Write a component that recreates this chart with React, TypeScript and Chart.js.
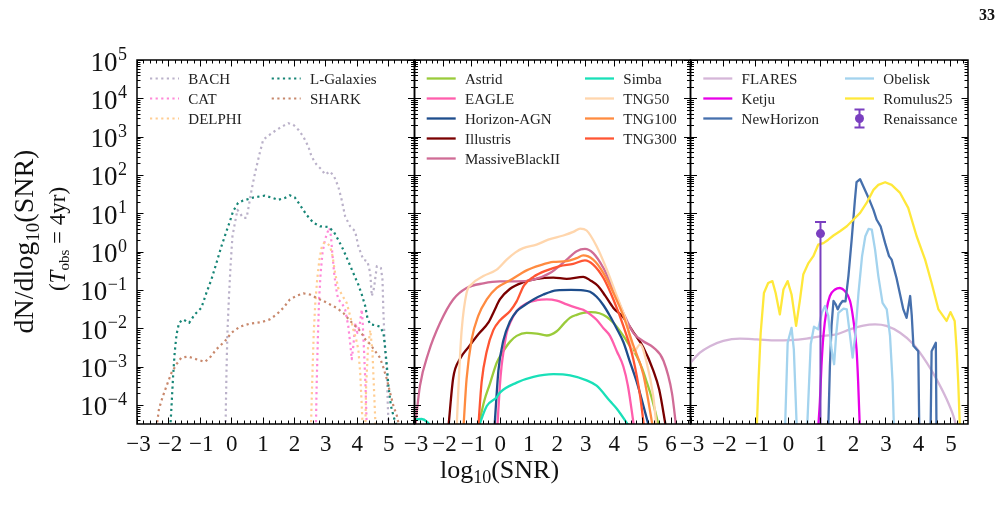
import React, { useEffect, useRef } from "react";
import { Chart, registerables } from "chart.js";

Chart.register(...registerables);

const SERIF = "'Liberation Serif', 'Times New Roman', serif";
const W = 1004;
const H = 507;
const PLOT_TOP = 60;
const PLOT_BOTTOM = 424;
const Y_MIN = 10 ** -4.5;
const Y_MAX = 1e5;

// Each series: [log10(SNR), log10(dN/dlog10 SNR)]; values far below the axis mark where a curve drops out.
type Pt = [number, number];

// ---- semi-analytic models ----
const bach: Pt[] = [[-0.18,-4.6],[-0.15,-3.16],[-0.12,-2.12],[-0.07,-1.16],[-0.02,-0.38],[0.04,0.4],[0.12,0.75],[0.2,1.09],[0.38,0.88],[0.49,0.88],[0.54,1.09],[0.65,1.61],[0.76,2.05],[0.91,2.57],[1.02,2.92],[1.23,3.05],[1.45,3.18],[1.66,3.28],[1.82,3.35],[1.98,3.31],[2.14,3.18],[2.3,3.0],[2.46,2.74],[2.56,2.48],[2.72,2.27],[2.88,2.14],[2.99,2.01],[3.15,2.09],[3.28,1.96],[3.41,1.7],[3.52,1.35],[3.63,0.92],[3.79,0.66],[3.95,0.53],[4.05,0.14],[4.21,-0.21],[4.34,-0.25],[4.43,-0.56],[4.48,-1.16],[4.55,-0.95],[4.64,-0.38],[4.77,-0.43],[4.82,-0.73],[4.85,-1.6],[4.9,-2.55],[4.96,-3.16],[4.99,-4.03],[5.02,-4.6]];
const cat: Pt[] = [[2.7,-4.6],[2.72,-3.59],[2.76,-2.29],[2.8,-1.25],[2.85,-0.56],[2.91,-0.03],[2.99,0.31],[3.06,0.49],[3.13,0.62],[3.18,0.4],[3.22,-0.03],[3.28,-0.56],[3.34,-0.95],[3.41,-1.25],[3.52,-1.34],[3.63,-1.51],[3.73,-1.94],[3.79,-2.38],[3.84,-2.81],[3.89,-2.47],[3.96,-1.86],[4.02,-2.12],[4.09,-1.94],[4.16,-1.51],[4.19,-1.86],[4.23,-2.55],[4.28,-3.51],[4.32,-4.6]];
const delphi: Pt[] = [[2.54,-4.6],[2.59,-3.16],[2.63,-2.12],[2.68,-1.34],[2.74,-0.73],[2.81,-0.21],[2.88,0.1],[2.96,0.23],[3.04,0.23],[3.15,0.14],[3.23,-0.12],[3.31,-0.56],[3.41,-0.95],[3.55,-1.16],[3.68,-1.34],[3.79,-1.68],[3.89,-2.03],[3.98,-2.29],[4.05,-2.55],[4.11,-3.16],[4.16,-4.03],[4.19,-4.6],[4.24,-6],[4.3,-3.5],[4.36,-2.5],[4.43,-2.05],[4.5,-2.6],[4.56,-3.8],[4.6,-4.6]];
const lGalaxies: Pt[] = [[-1.94,-4.6],[-1.9,-4.03],[-1.85,-3.25],[-1.8,-2.64],[-1.74,-2.16],[-1.66,-1.86],[-1.53,-1.77],[-1.34,-1.86],[-1.16,-1.64],[-0.95,-1.47],[-0.79,-1.08],[-0.63,-0.73],[-0.47,-0.3],[-0.31,0.14],[-0.15,0.53],[-0.04,0.79],[0.06,1.05],[0.22,1.27],[0.38,1.33],[0.7,1.41],[1.07,1.46],[1.29,1.41],[1.5,1.35],[1.71,1.4],[1.87,1.47],[2.03,1.41],[2.19,1.22],[2.4,0.96],[2.62,0.75],[2.83,0.66],[3.1,0.64],[3.26,0.53],[3.41,0.31],[3.57,0.05],[3.73,-0.25],[3.89,-0.56],[4.05,-0.86],[4.16,-1.12],[4.27,-1.42],[4.34,-1.73],[4.43,-1.9],[4.59,-1.92],[4.74,-1.96],[4.85,-2.12],[4.9,-2.47],[4.96,-2.99],[5.01,-3.51],[5.09,-4.03],[5.17,-4.29],[5.28,-4.6]];
const shark: Pt[] = [[-2.38,-4.6],[-2.3,-4.11],[-2.19,-3.81],[-2.06,-3.51],[-1.9,-3.16],[-1.74,-2.94],[-1.59,-2.77],[-1.37,-2.74],[-1.11,-2.81],[-0.84,-2.88],[-0.68,-2.77],[-0.47,-2.55],[-0.2,-2.34],[0.01,-2.12],[0.28,-1.96],[0.6,-1.88],[0.97,-1.84],[1.23,-1.77],[1.45,-1.64],[1.66,-1.47],[1.87,-1.25],[2.09,-1.15],[2.3,-1.09],[2.51,-1.12],[2.72,-1.21],[2.94,-1.29],[3.15,-1.38],[3.36,-1.47],[3.57,-1.6],[3.79,-1.81],[3.95,-1.94],[4.11,-2.07],[4.27,-2.29],[4.43,-2.42],[4.59,-2.6],[4.74,-2.77],[4.85,-3.03],[4.96,-3.33],[5.06,-3.68],[5.17,-4.03],[5.28,-4.29],[5.36,-4.6]];

// ---- large-volume hydrodynamical simulations ----
const astrid: Pt[] = [[-0.76,-4.6],[-0.55,-3.9],[-0.35,-3.45],[-0.11,-2.9],[0.12,-2.6],[0.36,-2.35],[0.59,-2.2],[0.94,-2.12],[1.3,-2.14],[1.65,-2.19],[2.0,-2.08],[2.25,-1.88],[2.46,-1.73],[2.7,-1.65],[2.93,-1.6],[3.2,-1.58],[3.5,-1.61],[3.75,-1.7],[3.99,-1.86],[4.34,-2.2],[4.6,-2.5],[4.81,-2.73],[5.0,-3.05],[5.16,-3.4],[5.35,-3.85],[5.6,-4.6]];
const eagle: Pt[] = [[-0.09,-4.6],[0.0,-3.5],[0.06,-2.99],[0.15,-2.5],[0.24,-2.12],[0.4,-1.8],[0.59,-1.55],[0.94,-1.35],[1.3,-1.27],[1.65,-1.25],[2.0,-1.28],[2.35,-1.38],[2.7,-1.47],[2.93,-1.52],[3.2,-1.65],[3.4,-1.78],[3.64,-2.0],[3.87,-2.2],[4.11,-2.6],[4.34,-3.0],[4.5,-3.5],[4.72,-4.6]];
const horizonAgn: Pt[] = [[-0.19,-4.6],[-0.05,-3.1],[0.12,-2.33],[0.36,-1.82],[0.6,-1.55],[0.83,-1.42],[1.18,-1.25],[1.53,-1.12],[2.0,-1.01],[2.5,-1.0],[2.93,-1.01],[3.17,-1.05],[3.4,-1.18],[3.64,-1.4],[3.87,-1.68],[4.1,-2.0],[4.34,-2.36],[4.56,-2.85],[4.81,-3.4],[5.0,-3.9],[5.25,-4.6]];
const illustris: Pt[] = [[-1.81,-4.6],[-1.64,-3.3],[-1.4,-2.8],[-1.11,-2.5],[-0.75,-2.15],[-0.4,-1.85],[-0.2,-1.55],[0.0,-1.25],[0.36,-0.97],[0.82,-0.8],[1.3,-0.71],[1.88,-0.68],[2.35,-0.71],[2.93,-0.66],[3.2,-0.76],[3.45,-0.9],[3.7,-1.15],[3.99,-1.47],[4.34,-1.72],[4.69,-2.1],[5.04,-2.5],[5.39,-3.1],[5.6,-3.6],[5.84,-4.6]];
const massiveBlackII: Pt[] = [[-2.98,-4.6],[-2.81,-3.51],[-2.51,-2.64],[-2.1,-1.86],[-1.64,-1.25],[-1.17,-0.95],[-0.58,-0.83],[0.0,-0.78],[0.59,-0.78],[1.18,-0.73],[1.76,-0.56],[2.35,-0.21],[2.7,0.01],[2.99,0.07],[3.28,-0.04],[3.64,-0.43],[3.99,-0.99],[4.34,-1.6],[4.69,-2.12],[5.04,-2.34],[5.39,-2.5],[5.75,-2.85],[6.05,-3.7],[6.2,-4.6]];
const simba: Pt[] = [[-3.1,-4.45],[-2.95,-4.38],[-2.75,-4.37],[-2.55,-4.45],[-2.4,-4.6],[-1.6,-6],[-0.76,-4.6],[-0.46,-4.03],[-0.11,-3.8],[0.0,-3.68],[0.59,-3.42],[1.18,-3.27],[1.88,-3.2],[2.47,-3.23],[3.05,-3.36],[3.4,-3.5],[3.87,-3.9],[4.11,-4.1],[4.58,-4.6]];
const tng50: Pt[] = [[-1.52,-4.6],[-1.42,-3.0],[-1.34,-2.03],[-1.17,-1.08],[-0.99,-0.85],[-0.58,-0.64],[-0.11,-0.47],[0.24,-0.21],[0.55,-0.02],[0.82,0.09],[1.29,0.18],[1.7,0.31],[2.23,0.42],[2.6,0.52],[2.82,0.6],[3.05,0.55],[3.4,0.14],[3.76,-0.47],[4.11,-1.16],[4.46,-1.86],[4.69,-2.64],[4.93,-2.42],[5.16,-2.9],[5.39,-3.77],[5.51,-4.6]];
const tng100: Pt[] = [[-1.28,-4.6],[-1.17,-3.33],[-0.99,-2.29],[-0.76,-1.68],[-0.46,-1.25],[-0.11,-0.95],[0.36,-0.75],[0.94,-0.49],[1.41,-0.36],[1.88,-0.27],[2.35,-0.25],[2.7,-0.17],[2.93,-0.1],[3.28,-0.21],[3.64,-0.56],[3.99,-1.08],[4.34,-1.68],[4.69,-2.45],[5.04,-3.2],[5.38,-4.6]];
const tng300: Pt[] = [[-0.76,-4.6],[-0.64,-3.4],[-0.46,-2.6],[-0.23,-2.05],[0.0,-1.8],[0.36,-1.55],[0.59,-1.3],[0.85,-0.88],[1.18,-0.66],[1.65,-0.49],[2.11,-0.38],[2.58,-0.32],[2.99,-0.23],[3.28,-0.34],[3.64,-0.69],[3.99,-1.25],[4.34,-1.94],[4.69,-2.81],[4.93,-3.77],[5.07,-4.6]];

// ---- zoom-in and high-redshift simulations ----
const flares: Pt[] = [[-3.05,-2.95],[-2.71,-2.64],[-2.4,-2.47],[-1.99,-2.33],[-1.48,-2.27],[-0.96,-2.29],[-0.35,-2.32],[0.06,-2.31],[0.57,-2.27],[1.09,-2.2],[1.5,-2.16],[1.91,-2.03],[2.32,-1.93],[2.68,-1.9],[3.03,-1.94],[3.45,-2.12],[3.86,-2.42],[4.27,-2.9],[4.57,-3.33],[4.88,-3.85],[5.09,-4.29],[5.19,-4.6]];
const ketju: Pt[] = [[0.93,-4.6],[0.98,-3.94],[1.03,-2.99],[1.09,-2.2],[1.19,-1.51],[1.29,-1.16],[1.45,-0.99],[1.6,-0.95],[1.75,-1.03],[1.91,-1.29],[2.01,-1.77],[2.11,-2.55],[2.16,-3.42],[2.21,-4.6]];
const newHorizon: Pt[] = [[1.24,-4.6],[1.29,-2.99],[1.34,-1.94],[1.4,-1.29],[1.47,-1.38],[1.53,-1.51],[1.6,-1.38],[1.68,-1.29],[1.77,-1.3],[1.86,-0.64],[1.96,0.31],[2.06,1.35],[2.11,1.81],[2.22,1.89],[2.32,1.7],[2.48,1.4],[2.63,1.09],[2.73,0.83],[2.85,0.66],[2.99,0.22],[3.11,-0.12],[3.19,-0.21],[3.34,-0.69],[3.55,-1.51],[3.65,-1.73],[3.76,-1.16],[3.81,-1.68],[3.86,-2.46],[4.01,-2.6],[4.04,-4.6],[4.2,-6],[4.39,-4.6],[4.42,-2.6],[4.55,-2.38],[4.57,-4.6]];
const obelisk: Pt[] = [[-0.09,-4.6],[-0.01,-2.38],[0.11,-1.99],[0.18,-2.55],[0.27,-4.6],[0.43,-6],[0.59,-4.6],[0.7,-2.42],[0.8,-1.96],[0.93,-2.03],[1.04,-1.6],[1.14,-1.42],[1.24,-1.68],[1.34,-2.55],[1.42,-2.94],[1.48,-2.2],[1.55,-1.6],[1.71,-1.49],[1.81,-1.51],[1.91,-2.2],[1.99,-2.77],[2.07,-2.2],[2.17,-1.08],[2.28,-0.12],[2.38,0.4],[2.48,0.59],[2.58,0.57],[2.68,0.05],[2.78,-0.64],[2.91,-1.34],[3.04,-1.51],[3.14,-2.2],[3.22,-3.42],[3.26,-4.6]];
const romulus25: Pt[] = [[-0.96,-4.6],[-0.91,-3.42],[-0.84,-2.12],[-0.74,-1.08],[-0.61,-0.82],[-0.48,-0.77],[-0.38,-1.08],[-0.25,-1.64],[-0.14,-0.99],[-0.01,-0.77],[0.11,-1.12],[0.25,-1.94],[0.37,-1.25],[0.47,-0.6],[0.63,-0.3],[0.78,-0.12],[0.93,0.18],[1.09,0.22],[1.24,0.31],[1.4,0.42],[1.6,0.53],[1.81,0.66],[2.01,0.83],[2.22,1.01],[2.42,1.27],[2.63,1.61],[2.78,1.74],[2.99,1.81],[3.19,1.74],[3.45,1.53],[3.7,1.14],[3.96,0.4],[4.22,-0.21],[4.42,-0.82],[4.63,-1.51],[4.88,-1.81],[5.0,-1.58],[5.13,-1.81],[5.19,-2.55],[5.24,-3.42],[5.29,-4.6]];

// Renaissance: single estimate with symmetric error
const renaissanceSnr = [1.0];
const renaissanceN = [2.95];
const renaissanceErr = [2.95];

type SeriesDef = { label: string; pts: Pt[]; color: string; dotted?: boolean; smooth?: boolean };

const panelSeries: SeriesDef[][] = [
  [
    { label: "BACH", pts: bach, color: "#bab1c9", dotted: true },
    { label: "CAT", pts: cat, color: "#ff88d8", dotted: true },
    { label: "DELPHI", pts: delphi, color: "#ffcd92", dotted: true },
    { label: "L-Galaxies", pts: lGalaxies, color: "#168576", dotted: true },
    { label: "SHARK", pts: shark, color: "#c8886c", dotted: true },
  ],
  [
    { label: "Astrid", pts: astrid, color: "#9acb3a", smooth: true },
    { label: "EAGLE", pts: eagle, color: "#ff5eac", smooth: true },
    { label: "Horizon-AGN", pts: horizonAgn, color: "#1e4d8c", smooth: true },
    { label: "Illustris", pts: illustris, color: "#7a0000", smooth: true },
    { label: "MassiveBlackII", pts: massiveBlackII, color: "#d06c96", smooth: true },
    { label: "Simba", pts: simba, color: "#19e0b8", smooth: true },
    { label: "TNG50", pts: tng50, color: "#ffd6ad", smooth: true },
    { label: "TNG100", pts: tng100, color: "#ff8b40", smooth: true },
    { label: "TNG300", pts: tng300, color: "#ff5533", smooth: true },
  ],
  [
    { label: "FLARES", pts: flares, color: "#d5b6d8", smooth: true },
    { label: "Ketju", pts: ketju, color: "#e800e8", smooth: true },
    { label: "NewHorizon", pts: newHorizon, color: "#4670ad" },
    { label: "Obelisk", pts: obelisk, color: "#a3d3ee" },
    { label: "Romulus25", pts: romulus25, color: "#ffe83a" },
  ],
];

const RENAISSANCE_COLOR = "#7a3fc0";

const PANELS = [
  { left: 137, right: 414.5, xMax: 5.84, legendCols: [13, 134.7], withYAxis: true },
  { left: 414.5, right: 690.5, xMax: 6.7, legendCols: [12.2, 170.5], withYAxis: false },
  { left: 690.5, right: 968, xMax: 5.54, legendCols: [12.8, 154.5], withYAxis: false },
];

type Run = { t: string; size: number; dy?: number; italic?: boolean; bold?: boolean };
const runFont = (r: Run) => `${r.italic ? "italic " : ""}${r.bold ? "bold " : ""}${r.size}px ${SERIF}`;

function drawRuns(ctx: CanvasRenderingContext2D, runs: Run[], x: number, y: number) {
  ctx.textAlign = "left";
  ctx.textBaseline = "alphabetic";
  const widths = runs.map((r) => {
    ctx.font = runFont(r);
    return ctx.measureText(r.t).width;
  });
  let cx = x - widths.reduce((a, b) => a + b, 0) / 2;
  runs.forEach((r, i) => {
    ctx.font = runFont(r);
    ctx.fillText(r.t, cx, y + (r.dy || 0));
    cx += widths[i];
  });
}

const panelPlugin = {
  id: "panelAxes",
  afterDatasetsDraw(chart: any) {
    const { ctx, chartArea: a } = chart;
    const xs = chart.scales.x;
    const ys = chart.scales.y;
    chart.data.datasets.forEach((ds: any) => {
      if (!ds.errHigh) return;
      ds.data.forEach((pt: any, j: number) => {
        const px = xs.getPixelForValue(pt.x);
        const yHi = ys.getPixelForValue(pt.y + ds.errHigh[j]);
        const lo = pt.y - ds.errLow[j];
        const yLo = lo > 0 ? ys.getPixelForValue(lo) : a.bottom + 5;
        ctx.save();
        ctx.beginPath();
        ctx.rect(a.left, a.top, a.right - a.left, a.bottom - a.top);
        ctx.clip();
        ctx.strokeStyle = ds.pointBackgroundColor;
        ctx.lineWidth = 2;
        ctx.beginPath();
        ctx.moveTo(px, yLo);
        ctx.lineTo(px, yHi);
        ctx.moveTo(px - 5.5, yHi);
        ctx.lineTo(px + 5.5, yHi);
        if (lo > 0) {
          ctx.moveTo(px - 5.5, yLo);
          ctx.lineTo(px + 5.5, yLo);
        }
        ctx.stroke();
        ctx.fillStyle = ds.pointBackgroundColor;
        ctx.beginPath();
        ctx.arc(px, ys.getPixelForValue(pt.y), 4.5, 0, Math.PI * 2);
        ctx.fill();
        ctx.restore();
      });
    });
  },
  afterDraw(chart: any, _args: any, opts: any) {
    const { ctx, chartArea: a } = chart;
    const xs = chart.scales.x;
    const ys = chart.scales.y;
    ctx.save();

    // inward ticks on all four sides
    ctx.strokeStyle = "#000";
    ctx.lineWidth = 1;
    ctx.setLineDash([]);
    ctx.beginPath();
    for (let k = Math.ceil(xs.min * 5 - 1e-9); k <= Math.floor(xs.max * 5 + 1e-9); k++) {
      const px = Math.round(xs.getPixelForValue(k / 5)) + 0.5;
      const len = k % 5 === 0 ? 6.5 : 3.5;
      ctx.moveTo(px, a.bottom);
      ctx.lineTo(px, a.bottom - len);
      ctx.moveTo(px, a.top);
      ctx.lineTo(px, a.top + len);
    }
    for (let d = -5; d <= 5; d++) {
      for (let m = 1; m <= 9; m++) {
        const val = m * 10 ** d;
        if (val < ys.min * 0.999 || val > ys.max * 1.001) continue;
        const py = Math.round(ys.getPixelForValue(val)) + 0.5;
        const len = m === 1 ? 6.5 : 3.5;
        ctx.moveTo(a.left, py);
        ctx.lineTo(a.left + len, py);
        ctx.moveTo(a.right, py);
        ctx.lineTo(a.right - len, py);
      }
    }
    ctx.stroke();

    // frame
    ctx.lineWidth = 1.5;
    ctx.strokeRect(a.left, a.top, a.right - a.left, a.bottom - a.top);

    // x tick labels
    ctx.fillStyle = "#111";
    ctx.font = `23px ${SERIF}`;
    ctx.textAlign = "center";
    ctx.textBaseline = "alphabetic";
    for (let i = Math.ceil(xs.min); i <= Math.floor(xs.max); i++) {
      const label = i < 0 ? "\u2212" + Math.abs(i) : String(i);
      ctx.fillText(label, xs.getPixelForValue(i) + (i < 0 ? 1.5 : 0.5), 451);
    }

    // y tick labels, axis titles
    if (opts.withYAxis) {
      const right = 127;
      for (let d = -4; d <= 5; d++) {
        const py = ys.getPixelForValue(10 ** d);
        const sup = d < 0 ? "\u2212" + -d : String(d);
        ctx.font = `18px ${SERIF}`;
        const supW = ctx.measureText(sup).width;
        ctx.textAlign = "left";
        ctx.fillText(sup, right - supW, py);
        ctx.font = `27px ${SERIF}`;
        ctx.textAlign = "right";
        ctx.fillText("10", right - supW - 0.5, py + 10.5);
      }

      drawRuns(ctx, [{ t: "log", size: 26 }, { t: "10", size: 18, dy: 5 }, { t: "(SNR)", size: 26 }], 499.5, 478);

      ctx.save();
      ctx.translate(32.5, 241.5);
      ctx.rotate(-Math.PI / 2);
      drawRuns(ctx, [{ t: "dN/dlog", size: 28 }, { t: "10", size: 19, dy: 6 }, { t: "(SNR)", size: 28 }], 0, 0);
      ctx.restore();

      ctx.save();
      ctx.translate(64.5, 239);
      ctx.rotate(-Math.PI / 2);
      drawRuns(
        ctx,
        [
          { t: "(", size: 23 },
          { t: "T", size: 23, italic: true },
          { t: "obs", size: 15, dy: 4 },
          { t: " = 4yr)", size: 23 },
        ],
        0,
        0
      );
      ctx.restore();

      ctx.font = `bold 16px ${SERIF}`;
      ctx.textAlign = "right";
      ctx.fillText("33", 995, 20);
    }

    // legend, two columns filled top-down
    const dsets = chart.data.datasets;
    const rows = Math.ceil(dsets.length / 2);
    dsets.forEach((ds: any, i: number) => {
      const col = Math.floor(i / rows);
      const row = i % rows;
      const lx = a.left + opts.legendCols[col];
      const ly = 78.5 + row * 20;
      if (ds.errHigh) {
        const cx = lx + 14.5;
        ctx.strokeStyle = ds.pointBackgroundColor;
        ctx.fillStyle = ds.pointBackgroundColor;
        ctx.lineWidth = 2;
        ctx.setLineDash([]);
        ctx.beginPath();
        ctx.moveTo(cx, ly - 9);
        ctx.lineTo(cx, ly + 9);
        ctx.moveTo(cx - 5, ly - 9);
        ctx.lineTo(cx + 5, ly - 9);
        ctx.moveTo(cx - 5, ly + 9);
        ctx.lineTo(cx + 5, ly + 9);
        ctx.stroke();
        ctx.beginPath();
        ctx.arc(cx, ly, 4.5, 0, Math.PI * 2);
        ctx.fill();
      } else {
        ctx.strokeStyle = ds.borderColor;
        ctx.lineWidth = ds.borderWidth;
        ctx.setLineDash(ds.borderDash || []);
        ctx.beginPath();
        ctx.moveTo(lx, ly);
        ctx.lineTo(lx + 29, ly);
        ctx.stroke();
        ctx.setLineDash([]);
      }
      ctx.fillStyle = "#222";
      ctx.font = `15px ${SERIF}`;
      ctx.textAlign = "left";
      ctx.textBaseline = "alphabetic";
      ctx.fillText(ds.label, lx + 38.3, ly + 5);
    });

    ctx.restore();
  },
};

function makeConfig(index: number): any {
  const panel = PANELS[index];
  const datasets: any[] = panelSeries[index].map((s, k) => ({
    label: s.label,
    data: s.pts.map(([x, logN]) => ({ x, y: 10 ** logN })),
    borderColor: s.color,
    backgroundColor: s.color,
    borderWidth: s.dotted ? 2.2 : 2.3,
    borderDash: s.dotted ? [2.2, 3.4] : [],
    borderCapStyle: "butt",
    borderJoinStyle: "round",
    pointRadius: 0,
    tension: 0,
    cubicInterpolationMode: s.smooth ? "monotone" : "default",
    capBezierPoints: false,
    fill: false,
    order: -k,
  }));
  if (index === 2) {
    datasets.push({
      label: "Renaissance",
      data: renaissanceSnr.map((x, j) => ({ x, y: renaissanceN[j] })),
      errHigh: renaissanceErr,
      errLow: renaissanceErr,
      showLine: false,
      pointRadius: 0,
      pointBackgroundColor: RENAISSANCE_COLOR,
      borderColor: RENAISSANCE_COLOR,
      order: -20,
    });
  }
  return {
    type: "line",
    data: { datasets },
    options: {
      responsive: false,
      maintainAspectRatio: false,
      animation: false,
      devicePixelRatio: 1,
      events: [],
      layout: {
        padding: { left: panel.left, right: W - panel.right, top: PLOT_TOP, bottom: H - PLOT_BOTTOM },
      },
      scales: {
        x: { type: "linear", min: -3, max: panel.xMax, display: false },
        y: { type: "logarithmic", min: Y_MIN, max: Y_MAX, display: false },
      },
      plugins: {
        legend: { display: false },
        tooltip: { enabled: false },
        panelAxes: { withYAxis: panel.withYAxis, legendCols: panel.legendCols },
      },
    },
    plugins: [panelPlugin],
  };
}

export default function App() {
  const ref0 = useRef<HTMLCanvasElement>(null);
  const ref1 = useRef<HTMLCanvasElement>(null);
  const ref2 = useRef<HTMLCanvasElement>(null);
  const refs = [ref0, ref1, ref2];

  useEffect(() => {
    const charts = refs.map((r, i) => new Chart(r.current as HTMLCanvasElement, makeConfig(i)));
    return () => charts.forEach((c) => c.destroy());
  }, []);

  return (
    <div style={{ position: "fixed", left: 0, top: 0, width: W, height: H, background: "#fff", overflow: "hidden" }}>
      {refs.map((r, i) => (
        <canvas
          key={i}
          ref={r}
          width={W}
          height={H}
          style={{ position: "absolute", left: 0, top: 0, width: W, height: H }}
        />
      ))}
    </div>
  );
}
